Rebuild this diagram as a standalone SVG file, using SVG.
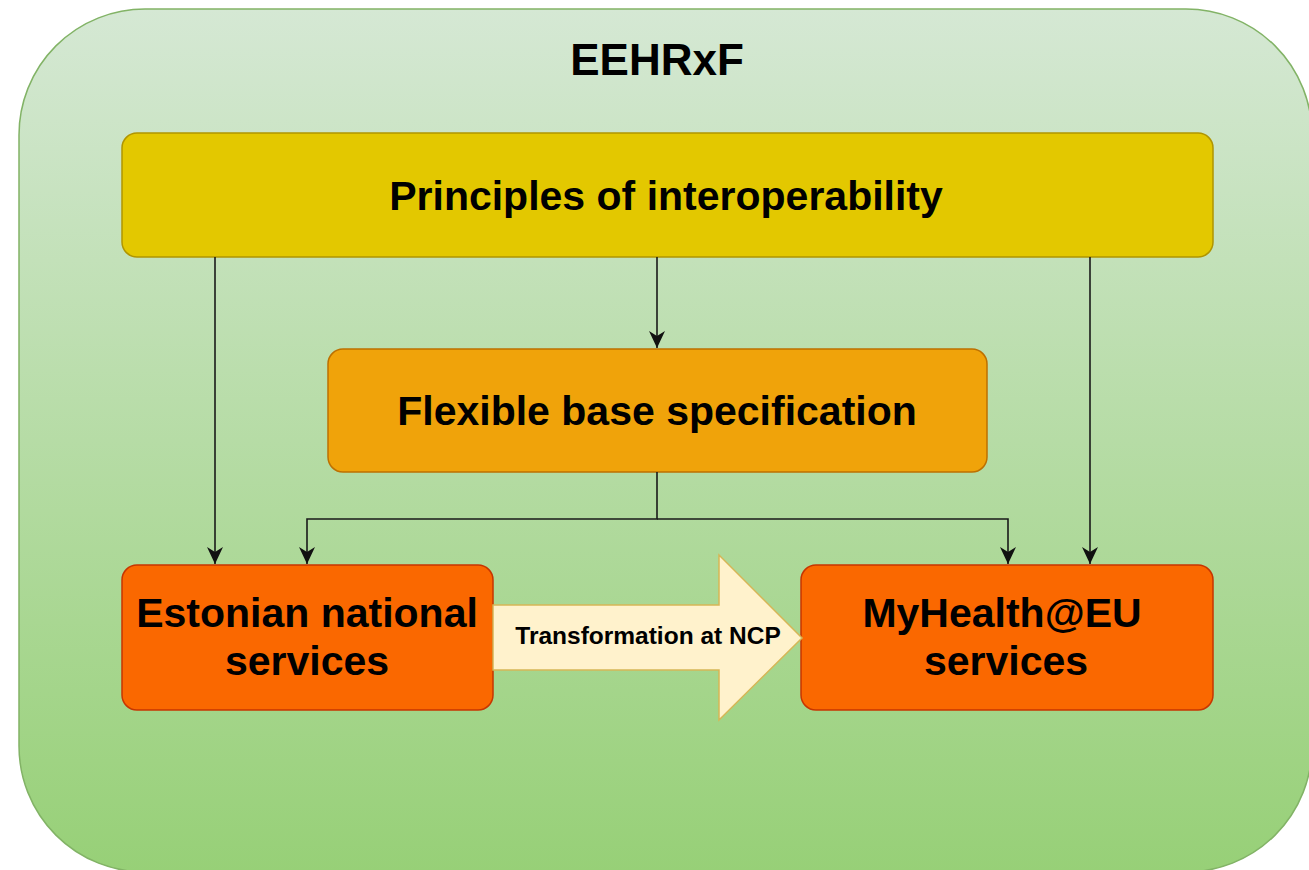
<svg xmlns="http://www.w3.org/2000/svg" width="1309" height="870" viewBox="0 0 1309 870">
<defs>
<linearGradient id="bg" x1="0" y1="0" x2="0" y2="1">
<stop offset="0" stop-color="#d5e8d4"/>
<stop offset="1" stop-color="#97d077"/>
</linearGradient>
<style>
.t{font-family:"Liberation Sans",Arial,Helvetica,sans-serif;font-weight:bold;fill:#000;text-anchor:middle}
.c{fill:none;stroke:#1a1a1a;stroke-width:1.6}
.h{fill:#111}
</style>
</defs>
<g id="container">
<rect x="19" y="9" width="1293" height="863" rx="126" ry="126" fill="url(#bg)" stroke="#82b366" stroke-width="1.5"/>
<text class="t" x="657" y="75" font-size="44">EEHRxF</text>
</g>
<g id="principles">
<rect x="122" y="133" width="1091" height="124" rx="15" fill="#e3c800" stroke="#b09500" stroke-width="1.5"/>
<text class="t" x="666" y="210" font-size="41">Principles of interoperability</text>
</g>
<g id="flexible">
<rect x="328" y="349" width="659" height="123" rx="15" fill="#f0a30a" stroke="#bd7000" stroke-width="1.5"/>
<text class="t" x="657" y="425" font-size="41">Flexible base specification</text>
</g>
<g id="estonian">
<rect x="122" y="565" width="371" height="145" rx="15" fill="#fa6800" stroke="#c73500" stroke-width="1.5"/>
<text class="t" x="307" y="627" font-size="41">Estonian national</text>
<text class="t" x="307" y="675" font-size="41">services</text>
</g>
<g id="myhealth">
<rect x="801" y="565" width="412" height="145" rx="15" fill="#fa6800" stroke="#c73500" stroke-width="1.5"/>
<text class="t" x="1002" y="627" font-size="41">MyHealth@EU</text>
<text class="t" x="1006" y="675" font-size="41">services</text>
</g>
<g id="transformation">
<path d="M493,605 L719,605 L719,555 L802,638 L719,720 L719,670 L493,670 Z" fill="#fff2cc" stroke="#d6b656" stroke-width="1.5"/>
<text class="t" x="648" y="644" font-size="24.5">Transformation at NCP</text>
</g>
<g id="connectors">
<path class="c" d="M215,257 L215,564"/>
<path class="c" d="M657,257 L657,348"/>
<path class="c" d="M1090,257 L1090,564"/>
<path class="c" d="M657,472 L657,519 L307,519 L307,564"/>
<path class="c" d="M657,519 L1008,519 L1008,564"/>
<path class="h" d="M215,564 L207,547 L215,552 L223,547 Z"/>
<path class="h" d="M657,348 L649,331 L657,336 L665,331 Z"/>
<path class="h" d="M1090,564 L1082,547 L1090,552 L1098,547 Z"/>
<path class="h" d="M307,564 L299,547 L307,552 L315,547 Z"/>
<path class="h" d="M1008,564 L1000,547 L1008,552 L1016,547 Z"/>
</g>
</svg>
